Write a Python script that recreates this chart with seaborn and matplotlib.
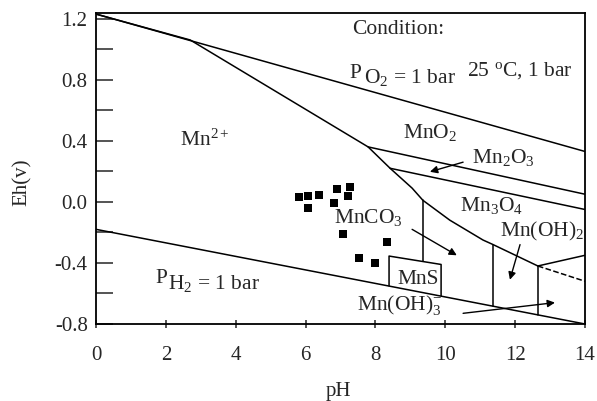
import matplotlib
matplotlib.use("Agg")
import matplotlib.pyplot as plt
import seaborn as sns
import pandas as pd
import numpy as np

# --- stability field boundaries (pH, Eh in volts) ---
o2_ph = [0, 14]
o2_eh = [1.23, 0.33]

h2_ph = [0, 14]
h2_eh = [-0.18, -0.80]

mn2_ph = [0, 2.7, 7.79, 8.42, 9.05, 9.36, 10.13, 11.08, 11.37, 12.65]
mn2_eh = [1.23, 1.06, 0.36, 0.22, 0.09, 0.01, -0.12, -0.25, -0.28, -0.42]

mno2_ph = [7.79, 14]
mno2_eh = [0.36, 0.05]

mn2o3_ph = [8.42, 14]
mn2o3_eh = [0.22, -0.05]

mn3o4_ph = [12.65, 14]
mn3o4_eh = [-0.42, -0.35]

dash_ph = [12.65, 14]
dash_eh = [-0.42, -0.52]

mnco3_ph = [9.36, 9.36]
mnco3_eh = [0.01, -0.39]

mns_ph = [8.39, 8.39, 9.88, 9.88]
mns_eh = [-0.55, -0.355, -0.41, -0.615]

oh2a_ph = [11.37, 11.37]
oh2a_eh = [-0.28, -0.683]

oh2b_ph = [12.65, 12.65]
oh2b_eh = [-0.42, -0.74]

# --- measured water samples ---
sample_ph = [5.81, 6.07, 6.38, 6.90, 7.27, 7.21, 6.07, 6.81, 7.07, 8.33, 7.53, 7.99]
sample_eh = [0.033, 0.039, 0.046, 0.085, 0.098, 0.039, -0.039, -0.007, -0.21, -0.26, -0.37, -0.40]

x_ticks = [0, 2, 4, 6, 8, 10, 12, 14]
y_ticks = [-0.8, -0.6, -0.4, -0.2, 0.0, 0.2, 0.4, 0.6, 0.8, 1.0, 1.2]
y_ticklabels = ["-0.8", "", "-0.4", "", "0.0", "", "0.4", "", "0.8", "", "1.2"]

sns.set_style("ticks")
plt.rcParams["font.family"] = ["Liberation Serif", "DejaVu Serif"]
plt.rcParams["mathtext.fontset"] = "custom"
plt.rcParams["mathtext.rm"] = "Liberation Serif"
plt.rcParams["mathtext.it"] = "Liberation Serif:italic"
plt.rcParams["mathtext.bf"] = "Liberation Serif:bold"

fig = plt.figure(figsize=(5.97, 4.01), dpi=100)
ax = fig.add_axes([96 / 597, 1 - 324 / 401, (585 - 96) / 597, (324 - 13) / 401])

segments = [
    (o2_ph, o2_eh, "-"), (h2_ph, h2_eh, "-"), (mn2_ph, mn2_eh, "-"),
    (mno2_ph, mno2_eh, "-"), (mn2o3_ph, mn2o3_eh, "-"), (mn3o4_ph, mn3o4_eh, "-"),
    (dash_ph, dash_eh, "--"), (mnco3_ph, mnco3_eh, "-"), (mns_ph, mns_eh, "-"),
    (oh2a_ph, oh2a_eh, "-"), (oh2b_ph, oh2b_eh, "-"),
]
for xs, ys, ls in segments:
    df = pd.DataFrame({"pH": xs, "Eh": ys})
    sns.lineplot(data=df, x="pH", y="Eh", sort=False, estimator=None,
                 color="black", linewidth=1.1, linestyle=ls, ax=ax)

pts = pd.DataFrame({"pH": sample_ph, "Eh": sample_eh})
sns.scatterplot(data=pts, x="pH", y="Eh", marker="s", s=38, color="black",
                linewidth=0, ax=ax, zorder=5)

ax.set_xlim(0, 14)
ax.set_ylim(-0.8, 1.237)
ax.set_xticks(x_ticks)
ax.set_xticklabels([str(v) for v in x_ticks])
ax.set_yticks(y_ticks)
ax.set_yticklabels(y_ticklabels)
ax.tick_params(axis="y", direction="in", length=12, width=1.1, labelsize=15, pad=6)
ax.tick_params(axis="x", direction="inout", length=6, width=1.1, labelsize=15, pad=13)
for sp in ax.spines.values():
    sp.set_linewidth(1.3)
    sp.set_color("black")

ax.set_xlabel("pH", fontsize=15)
ax.xaxis.set_label_coords(0.495, -0.185)
ax.set_ylabel("Eh(v)", fontsize=15)
ax.yaxis.set_label_coords(-0.132, 0.455)

fs = 15.5
ax.text(8.65, 1.128, "Condition:", fontsize=fs, ha="center", va="center")
ax.text(7.27, 0.813, "P", fontsize=fs, ha="left", va="baseline")
ax.text(7.67, 0.78, r"O$_\mathrm{2}$ = 1 bar", fontsize=fs, ha="left", va="baseline")
ax.text(10.62, 0.83, r"25 $^\mathrm{o}$C, 1 bar", fontsize=fs, ha="left", va="baseline", clip_on=True)
ax.text(2.40, 0.37, r"Mn$^\mathrm{2+}$", fontsize=fs, ha="left", va="baseline")
ax.text(8.79, 0.42, r"MnO$_\mathrm{2}$", fontsize=fs, ha="left", va="baseline")
ax.text(10.76, 0.256, r"Mn$_\mathrm{2}$O$_\mathrm{3}$", fontsize=fs, ha="left", va="baseline")
ax.text(10.42, -0.06, r"Mn$_\mathrm{3}$O$_\mathrm{4}$", fontsize=fs, ha="left", va="baseline")
ax.text(11.57, -0.23, r"Mn(OH)$_\mathrm{2}$", fontsize=fs, ha="left", va="baseline", clip_on=True)
ax.text(6.81, -0.14, r"MnCO$_\mathrm{3}$", fontsize=fs, ha="left", va="baseline")
ax.text(8.62, -0.54, "MnS", fontsize=fs, ha="left", va="baseline")
ax.text(7.47, -0.71, r"Mn(OH)$_\mathrm{3}^\mathrm{-}$", fontsize=fs, ha="left", va="baseline")
ax.text(1.69, -0.53, "P", fontsize=fs, ha="left", va="baseline")
ax.text(2.06, -0.57, r"H$_\mathrm{2}$ = 1 bar", fontsize=fs, ha="left", va="baseline")

arrow = dict(arrowstyle="-|>", color="black", lw=1.0, mutation_scale=11, shrinkA=0, shrinkB=0)
ax.annotate("", xy=(9.56, 0.197), xytext=(10.51, 0.26), arrowprops=arrow)
ax.annotate("", xy=(10.33, -0.35), xytext=(9.05, -0.18), arrowprops=arrow)
ax.annotate("", xy=(11.85, -0.51), xytext=(12.14, -0.28), arrowprops=arrow)
ax.annotate("", xy=(13.14, -0.66), xytext=(10.51, -0.73), arrowprops=arrow)

fig.savefig("out.png", dpi=100)
